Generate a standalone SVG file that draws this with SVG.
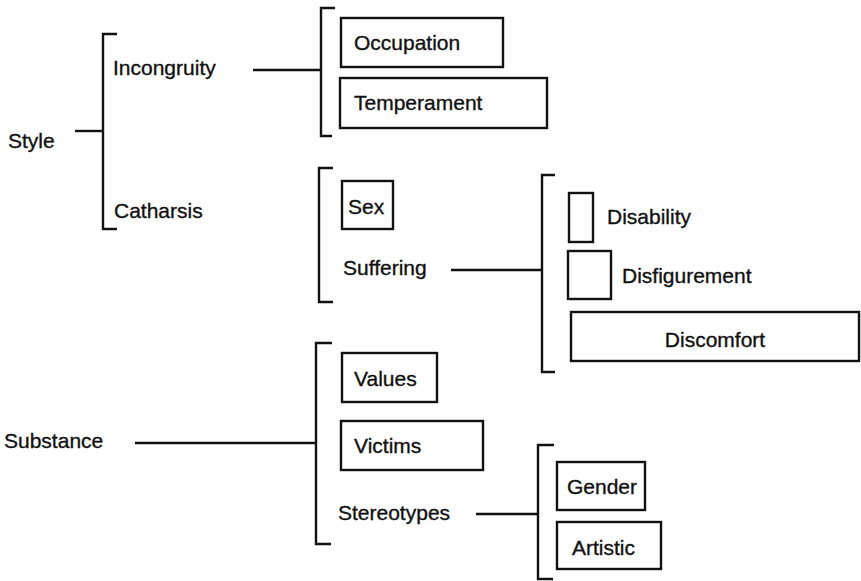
<svg xmlns="http://www.w3.org/2000/svg" width="861" height="581" viewBox="0 0 861 581">
<style>
text{font-family:"Liberation Sans",Arial,sans-serif;font-size:21px;fill:#111;stroke:#111;stroke-width:0.35}
.box{fill:none;stroke:#111;stroke-width:2.4}
.br{fill:none;stroke:#111;stroke-width:2.4}
.ln{stroke:#111;stroke-width:2.4;fill:none}
</style>
<rect width="861" height="581" fill="#fff"/>
<g id="connectors">
<line class="ln" x1="75" y1="131" x2="103" y2="131"/>
<line class="ln" x1="253" y1="70" x2="321" y2="70"/>
<line class="ln" x1="451" y1="270" x2="542" y2="270"/>
<line class="ln" x1="135" y1="443" x2="316" y2="443"/>
<line class="ln" x1="476" y1="514" x2="538" y2="514"/>
<path class="br" d="M117 34H103V229H117"/>
<path class="br" d="M335 8H321V136H332"/>
<path class="br" d="M333 168H319V302H333"/>
<path class="br" d="M555 175H542V372H555"/>
<path class="br" d="M332 343H316V544H331"/>
<path class="br" d="M554 445H538V579H553"/>
</g>
<g id="style"><text x="8" y="148">Style</text></g>
<g id="incongruity"><text x="113" y="75">Incongruity</text></g>
<g id="catharsis"><text x="114" y="218">Catharsis</text></g>
<g id="occupation"><rect class="box" x="341" y="18" width="162" height="49"/><text x="354" y="50">Occupation</text></g>
<g id="temperament"><rect class="box" x="340" y="78" width="207" height="50"/><text x="354" y="110">Temperament</text></g>
<g id="sex"><rect class="box" x="342" y="181" width="51" height="48"/><text x="348" y="214">Sex</text></g>
<g id="suffering"><text x="343" y="275">Suffering</text></g>
<g id="disability"><rect class="box" x="569" y="193" width="24" height="49"/><text x="607" y="224">Disability</text></g>
<g id="disfigurement"><rect class="box" x="568" y="251" width="43" height="48"/><text x="622" y="283">Disfigurement</text></g>
<g id="discomfort"><rect class="box" x="571" y="312" width="288" height="49"/><text x="715" y="347" text-anchor="middle">Discomfort</text></g>
<g id="substance"><text x="4" y="448">Substance</text></g>
<g id="values"><rect class="box" x="342" y="353" width="95" height="49"/><text x="354" y="386">Values</text></g>
<g id="victims"><rect class="box" x="341" y="421" width="142" height="49"/><text x="354" y="453">Victims</text></g>
<g id="stereotypes"><text x="338" y="520">Stereotypes</text></g>
<g id="gender"><rect class="box" x="557" y="462" width="88" height="48"/><text x="567" y="494">Gender</text></g>
<g id="artistic"><rect class="box" x="557" y="522" width="104" height="47"/><text x="572" y="555">Artistic</text></g>
</svg>
